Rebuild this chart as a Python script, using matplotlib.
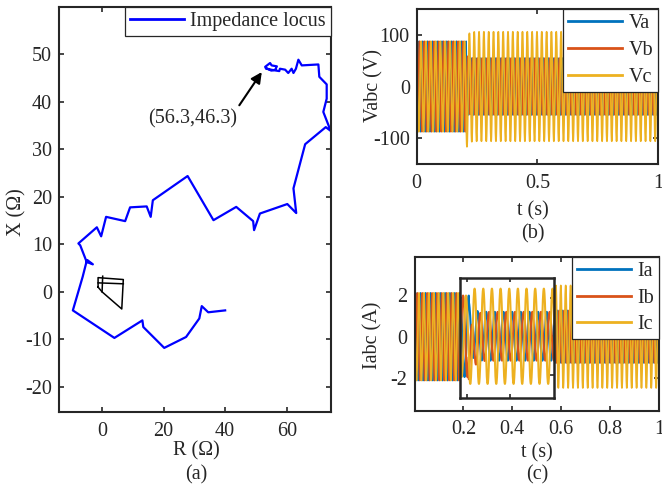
import numpy as np
import matplotlib.pyplot as plt

plt.rcParams['font.family'] = ['Liberation Serif', 'DejaVu Serif']
plt.rcParams['font.size'] = 14.5
plt.rcParams['axes.unicode_minus'] = False
INK = '#262626'
plt.rcParams.update({
    'text.color': INK, 'axes.edgecolor': INK, 'axes.labelcolor': INK,
    'xtick.color': INK, 'ytick.color': INK, 'axes.linewidth': 1.5,
    'xtick.direction': 'in', 'ytick.direction': 'in',
    'xtick.top': True, 'ytick.right': True,
    'xtick.major.size': 3.5, 'ytick.major.size': 3.5,
    'xtick.major.width': 1.2, 'ytick.major.width': 1.2,
    'xtick.major.pad': 7, 'ytick.major.pad': 5,
})

# ── (a) impedance locus ───────────────────────────────────
locus_R = [40.0, 34.5, 32.4, 31.6, 27.3, 20.2, 13.4, 13.1, 4.0, -9.5,
           -6.3, -5.2, -4.8, -3.0, -5.0, -7.1, -7.7, -1.7, -0.3, 1.3,
           7.5, 9.1, 14.5, 15.8, 16.5, 27.8, 36.2, 43.6, 49.1, 49.4,
           51.3, 60.2, 63.1, 62.2, 66.0, 72.7, 74.3, 71.9, 73.0, 73.0,
           70.6, 70.3, 64.9, 63.8, 63.0, 62.2, 61.6, 60.5, 59.5, 57.8,
           57.6, 55.7, 53.3, 53.0, 54.6, 55.1, 56.8, 56.3, 55.0, 53.5]
locus_X = [-3.9, -4.3, -3.0, -5.6, -9.5, -11.8, -7.4, -6.0, -9.7, -3.9,
           3.2, 6.0, 6.7, 5.8, 6.3, 9.8, 10.2, 13.6, 11.7, 15.8,
           14.9, 17.8, 18.0, 15.8, 19.3, 24.4, 15.1, 17.9, 14.9, 13.0,
           16.5, 18.5, 16.6, 21.8, 31.1, 34.7, 33.9, 37.9, 40.7, 43.7,
           45.3, 47.9, 47.7, 48.9, 47.0, 46.1, 47.0, 46.1, 46.8, 47.0,
           46.5, 46.7, 47.0, 47.4, 48.2, 47.7, 47.5, 46.8, 46.6, 47.1]

# relay characteristic (black quadrilaterals)
zone_R = [[-1.3, -1.3, 6.9, 6.4, 0.0, -1.3], [0.0, 0.2], [-1.3, 6.9]]
zone_X = [[1.0, 3.0, 2.6, -3.6, 0.0, 1.0], [0.0, 3.3], [1.9, 1.7]]

final_point = (51.9, 46.3)
final_label = '(56.3,46.3)'

# ── (b), (c) three-phase waveforms ─────────────────────────
F_HZ = 50
T_FAULT = 0.205
phase_deg = [0, -120, 120]

v_labels = ['Va', 'Vb', 'Vc']
v_amp_pre = [87.5, 87.5, 87.5]
v_amp_post = [55, 55, 106]
v_offset = [0, 8, -16]         # short transient right after the fault

i_labels = ['Ia', 'Ib', 'Ic']
i_amp_pre = [2.12, 2.12, 2.12]
i_amp_post = [1.27, 1.27, 2.48]
i_offset = [0.5, -1.6, 0.0]
TAU = 0.008

colors = ['#0072BD', '#D95319', '#EDB120']

t = np.linspace(0, 1, 40001)


def phase_wave(a_pre, a_post, offs, ph):
    w = 2 * np.pi * F_HZ * t + np.deg2rad(ph)
    amp = np.where(t < T_FAULT, a_pre, a_post)
    dc = np.where(t < T_FAULT, 0.0, offs * np.exp(-(t - T_FAULT) / TAU))
    return amp * np.sin(w) + dc


fig = plt.figure(figsize=(6.62, 4.9), dpi=100)
W, H = 662, 490


def px_axes(l, top, r, b):
    return fig.add_axes([l / W, 1 - b / H, (r - l) / W, (b - top) / H])


def boxed_legend(ax, spacing):
    leg = ax.legend(loc='upper right', borderaxespad=0, fancybox=False,
                    edgecolor=INK, framealpha=1, handlelength=2.7,
                    handletextpad=0.3, borderpad=0.25, labelspacing=spacing)
    leg.get_frame().set_linewidth(0.9)
    for ln in leg.get_lines():
        ln.set_linewidth(2)
    return leg


# ── (a) ───────────────────────────────────────────
axa = px_axes(59, 7, 331, 412)
axa.plot(locus_R, locus_X, color='#0000FF', lw=1.6, label='Impedance locus')
for zr, zx in zip(zone_R, zone_X):
    axa.plot(zr, zx, color='black', lw=1.1)
axa.set_xlim(-14, 74.4)
axa.set_ylim(-25.3, 60)
axa.set_xticks([0, 20, 40, 60])
axa.set_yticks(range(-20, 51, 10))
axa.text(29.4, 36.5, final_label, ha='center', va='center')
axa.annotate('', xy=final_point, xytext=(44.6, 39.3),
             arrowprops=dict(arrowstyle='-|>', color='black', lw=1.5,
                             mutation_scale=16, shrinkA=0, shrinkB=0))
boxed_legend(axa, 0.3)

# ── (b) ───────────────────────────────────────────
axb = px_axes(416.7, 9, 658, 164)
for k in range(3):
    axb.plot(t, phase_wave(v_amp_pre[k], v_amp_post[k], v_offset[k], phase_deg[k]),
             color=colors[k], lw=1.2, label=v_labels[k])
axb.set_xlim(0, 1)
axb.set_ylim(-150, 150)
axb.set_xticks([0, 0.5, 1])
axb.set_xticklabels(['0', '0.5', '1'])
axb.set_yticks([-100, 0, 100])
boxed_legend(axb, 0.38)

# ── (c) ───────────────────────────────────────────
axc = px_axes(414.5, 256.7, 659, 410.7)
currents = [phase_wave(i_amp_pre[k], i_amp_post[k], i_offset[k], phase_deg[k])
            for k in range(3)]
for k in range(3):
    axc.plot(t, currents[k], color=colors[k], lw=1.2, label=i_labels[k])
axc.set_xlim(0, 1)
axc.set_ylim(-3.58, 3.87)
axc.set_xticks([0.2, 0.4, 0.6, 0.8, 1])
axc.set_xticklabels(['0.2', '0.4', '0.6', '0.8', '1'])
axc.set_yticks([-2, 0, 2])
boxed_legend(axc, 0.38)

# zoomed inset around the fault
axi = px_axes(460, 277.7, 554.3, 397.7)
for k in range(3):
    axi.plot(t, currents[k], color=colors[k], lw=1.5)
axi.set_xlim(0.1846, 0.4025)
axi.set_ylim(-3.2, 3.05)
axi.set_xticks([0.2, 0.3])
axi.set_yticks([-2, 0, 2])
axi.tick_params(labelleft=False, labelbottom=False, length=3)
for s in axi.spines.values():
    s.set_linewidth(1.8)

# ── labels / captions ─────────────────────────────
fig.text(17 / W, 1 - 212 / H, 'X (Ω)', rotation=90, ha='center', va='center')
fig.text(196 / W, 1 - 451 / H, 'R (Ω)', ha='center', va='center')
fig.text(196 / W, 1 - 475 / H, '(a)', ha='center', va='center')
fig.text(374 / W, 1 - 86 / H, 'Vabc (V)', rotation=90, ha='center', va='center')
fig.text(533 / W, 1 - 211 / H, 't (s)', ha='center', va='center')
fig.text(533 / W, 1 - 234 / H, '(b)', ha='center', va='center')
fig.text(373 / W, 1 - 335 / H, 'Iabc (A)', rotation=90, ha='center', va='center')
fig.text(537 / W, 1 - 453 / H, 't (s)', ha='center', va='center')
fig.text(537 / W, 1 - 475 / H, '(c)', ha='center', va='center')

fig.savefig('out.png', dpi=100)
